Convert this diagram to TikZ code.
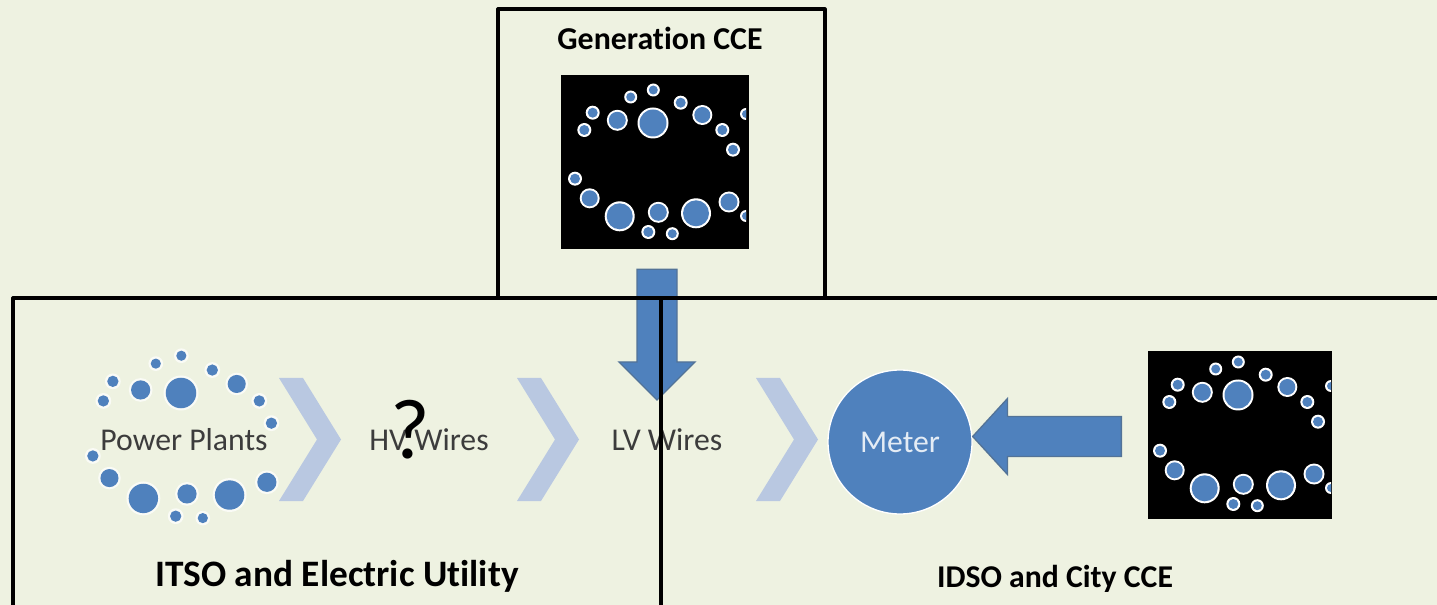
\documentclass[tikz,border=0pt]{standalone}
\usepackage{fontspec}
\setmainfont{Carlito}[Ligatures=NoCommon]
\usetikzlibrary{arrows.meta,positioning,shapes.arrows}
\definecolor{gridPaper}{HTML}{EEF2E1}
\definecolor{gridBlue}{HTML}{4F81BD}
\definecolor{gridEdge}{HTML}{385D8A}
\definecolor{gridChevron}{HTML}{B9C8E1}
\definecolor{gridText}{HTML}{3C3C3C}
\tikzset{
  gridRule/.style={draw=black, line width=2.4pt, line cap=round, line join=round},
  gridPanel/.style={fill=black, inner sep=0pt, outer sep=0pt},
  gridHead/.style={text=black, inner sep=0pt},
  gridLabel/.style={font=\fontsize{23.8pt}{28pt}\selectfont, text=gridText, inner sep=0pt},
  gridArrow/.style={
    single arrow,
    draw=gridEdge!85!gridPaper,
    fill=gridBlue,
    line width=1pt,
    inner sep=14.5pt,
    outer sep=0pt,
    single arrow tip angle=90,
    single arrow head extend=13.5pt,
    anchor=tip
  },
  gridMeter/.style={
    circle,
    fill=gridBlue,
    draw=white,
    line width=1pt,
    inner sep=0pt,
    minimum size=108pt,
    text=white!85!gridBlue,
    font=\fontsize{23.8pt}{28pt}\selectfont
  }
}
\newcommand{\gridDots}{0/0/15.5, -35.7/-2.7/10.5, 49.3/-8/10, -22.3/-26/6.5, 0.3/-33/6.5, 27.7/-20.3/7,
  -60.3/-10.3/7, -68.7/7/7, 69.3/7/7, 80/26.7/7, -78/55.7/7, -63.3/75.3/10, -33.3/93.3/15,
  5.3/89.3/10.5, -4.7/109/7, 19.3/110.7/6.5, 43/90.3/15, 76/79/10.5}
\newcommand{\gridCluster}[4]{%
  \begin{scope}[shift={(#1,#2)}, scale=#3]
    \foreach \dx/\dy/\dr in \gridDots {
      \fill[#4] (\dx,\dy) circle (\dr);
      \fill[gridBlue] (\dx,\dy) circle (\dr-2);
    }
  \end{scope}}
\newcommand{\gridCrop}[2]{%
  \begin{scope}[shift={(#1,#2)}]
    \clip (80,-20) rectangle (93,100);
    \foreach \dy in {-9,93} {
      \fill[white] (93,\dy) circle (6);
      \fill[gridBlue] (93,\dy) circle (4);
    }
  \end{scope}}
\newcommand{\gridChevron}[2]{%
  \fill[gridChevron] (#1,#2) -- ++(24,0) -- ++(38,61.5) -- ++(-38,61.5) -- ++(-24,0) -- ++(38,-61.5) -- cycle;}

\begin{document}
\begin{tikzpicture}[x=0.75pt, y=-0.75pt]
  \useasboundingbox[fill=gridPaper] (0,0) rectangle (1437,605);

  \node[gridPanel, minimum width=141pt, minimum height=130.5pt] (genPanel) at (655,162) {};
  \node[gridPanel, minimum width=138pt, minimum height=126pt] (cityPanel) at (1240,435) {};
  \gridCluster{653}{123}{1}{white}
  \gridCrop{653}{123}
  \gridCluster{1238}{395}{1}{white}
  \gridCrop{1238}{395}
  \gridCluster{181}{393}{1.13}{white!70!gridPaper}

  \gridChevron{279}{378}
  \gridChevron{517}{378}
  \gridChevron{756}{378}

  \node[gridLabel] (plants) at (184,440) {Power Plants};
  \node[gridLabel] (hvWires) at (429,440) {HV Wires};
  \node[gridLabel] (lvWires) at (667,440) {LV Wires};
  \node[inner sep=0pt, font=\fontsize{64pt}{64pt}\selectfont] (query) at (410,430) {?};
  \node[gridMeter] (meter) at (900,442) {Meter};

  \node[gridArrow, minimum height=98pt, rotate=-90] (genArrow) at (657,400) {};
  \node[gridArrow, minimum height=111.5pt, rotate=180, single arrow tip angle=95] (cityArrow) at (meter.east |- 0,436.5) {};

  \draw[gridRule] (498,298) -- (498,9) -- (825,9) -- (825,298) -- cycle;
  \draw[gridRule] (13,605) -- (13,298) -- (1437,298);
  \draw[gridRule] (661,298) -- (661,605);

  \node[gridHead, font=\bfseries\fontsize{23.9pt}{28pt}\selectfont] (genHead) at (660,38) {Generation CCE};
  \node[gridHead, font=\bfseries\fontsize{28pt}{32pt}\selectfont] (itsoHead) at (337,576.5) {ITSO and Electric Utility};
  \node[gridHead, font=\bfseries\fontsize{23.8pt}{28pt}\selectfont] (idsoHead) at (1055,578.5) {IDSO and City CCE};
\end{tikzpicture}
\end{document}
